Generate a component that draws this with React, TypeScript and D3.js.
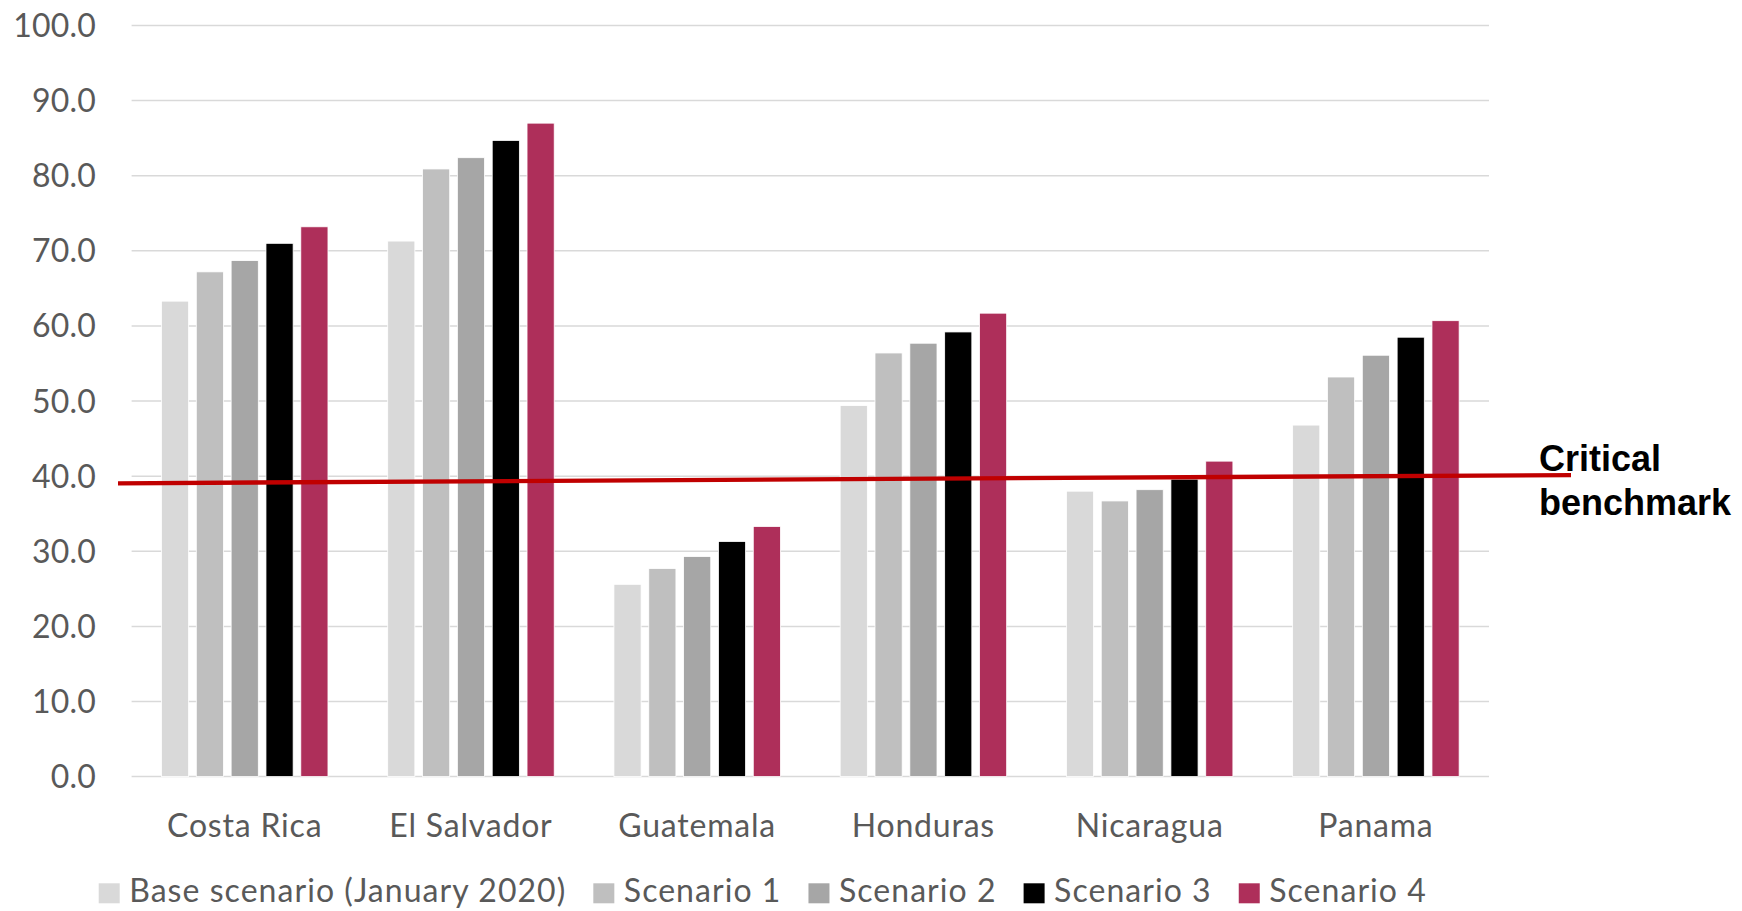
import React, { useEffect, useRef } from "react";
import * as d3 from "d3";

// Countries along the x axis
const countries = ["Costa Rica", "El Salvador", "Guatemala", "Honduras", "Nicaragua", "Panama"];

// Scenario names (legend order) and their colours
const scenarios = ["Base scenario (January 2020)", "Scenario 1", "Scenario 2", "Scenario 3", "Scenario 4"];
const scenarioColors = ["#d9d9d9", "#bfbfbf", "#a6a6a6", "#000000", "#ae2f5a"];

// Values per scenario, one entry per country
const baseScenario = [63.3, 71.3, 25.6, 49.4, 38.0, 46.8];
const scenario1 = [67.2, 80.9, 27.7, 56.4, 36.7, 53.2];
const scenario2 = [68.7, 82.4, 29.3, 57.7, 38.2, 56.1];
const scenario3 = [71.0, 84.7, 31.3, 59.2, 39.6, 58.5];
const scenario4 = [73.2, 87.0, 33.3, 61.7, 42.0, 60.7];
const seriesValues = [baseScenario, scenario1, scenario2, scenario3, scenario4];

// Y axis ticks
const yTicks = [0, 10, 20, 30, 40, 50, 60, 70, 80, 90, 100];

// Critical benchmark line: value at its left end and at its right end
const benchmarkValues = [39.05, 40.15];
const benchmarkLabel = ["Critical", "benchmark"];

const W = 1742;
const H = 911;
const plotLeft = 131.6;
const plotRight = 1489;
const plotTop = 25.5;
const plotBottom = 776.6;

const labelFont = "Lato, 'Open Sans', sans-serif";

export default function App() {
  const ref = useRef<SVGSVGElement | null>(null);

  useEffect(() => {
    const svg = d3.select(ref.current);
    svg.selectAll("*").remove();

    const y = d3.scaleLinear().domain([0, 100]).range([plotBottom, plotTop]);
    const x0 = d3.scaleBand<string>().domain(countries).range([plotLeft, plotRight]).padding(0);
    const outer = x0.bandwidth() * 0.132;
    const x1 = d3
      .scaleBand<string>()
      .domain(scenarios)
      .range([outer, x0.bandwidth() - outer])
      .paddingInner(0.22)
      .paddingOuter(0);

    // gridlines
    svg
      .append("g")
      .selectAll("line")
      .data(yTicks)
      .join("line")
      .attr("x1", plotLeft)
      .attr("x2", plotRight)
      .attr("y1", (d) => y(d))
      .attr("y2", (d) => y(d))
      .attr("stroke", "#d9d9d9")
      .attr("stroke-width", 1.5);

    // y tick labels
    svg
      .append("g")
      .selectAll("text")
      .data(yTicks)
      .join("text")
      .attr("x", 96)
      .attr("y", (d) => y(d))
      .attr("dy", "0.36em")
      .attr("text-anchor", "end")
      .attr("font-family", labelFont)
      .attr("font-size", 32)
      .attr("letter-spacing", 0.2)
      .attr("fill", "#595959")
      .text((d) => d3.format(".1f")(d));

    // bars
    const groups = svg
      .append("g")
      .selectAll("g")
      .data(countries)
      .join("g")
      .attr("transform", (c) => `translate(${x0(c)},0)`);

    groups
      .selectAll("rect")
      .data((c) => {
        const ci = countries.indexOf(c as string);
        return scenarios.map((s, si) => ({ s, si, v: seriesValues[si][ci] }));
      })
      .join("rect")
      .attr("x", (d) => x1(d.s) as number)
      .attr("width", x1.bandwidth())
      .attr("y", (d) => y(d.v))
      .attr("height", (d) => y(0) - y(d.v))
      .attr("fill", (d) => scenarioColors[d.si])
      .attr("stroke", "#ffffff")
      .attr("stroke-width", 0.8);

    // category labels
    svg
      .append("g")
      .selectAll("text")
      .data(countries)
      .join("text")
      .attr("x", (c) => (x0(c) as number) + x0.bandwidth() / 2)
      .attr("y", 836.7)
      .attr("text-anchor", "middle")
      .attr("font-family", labelFont)
      .attr("font-size", 32)
      .attr("letter-spacing", 0.8)
      .attr("fill", "#595959")
      .text((c) => c);

    // critical benchmark line
    const bx1 = 118;
    const bx2 = 1571;
    svg
      .append("line")
      .attr("x1", bx1)
      .attr("x2", bx2)
      .attr("y1", y(benchmarkValues[0]))
      .attr("y2", y(benchmarkValues[1]))
      .attr("stroke", "#c00000")
      .attr("stroke-width", 4.3);

    svg
      .append("g")
      .selectAll("text")
      .data(benchmarkLabel)
      .join("text")
      .attr("x", 1539)
      .attr("y", (_d, i) => 470.7 + i * 44.3)
      .attr("font-family", "'Liberation Sans', Arial, sans-serif")
      .attr("font-weight", "bold")
      .attr("font-size", 36)
      .attr("fill", "#000000")
      .text((d) => d);

    // legend
    const legend = svg.append("g");
    let lx = 98.7;
    scenarios.forEach((s, i) => {
      legend
        .append("rect")
        .attr("x", lx)
        .attr("y", 883.3)
        .attr("width", 21)
        .attr("height", 20)
        .attr("fill", scenarioColors[i]);
      const t = legend
        .append("text")
        .attr("x", lx + 30.5)
        .attr("y", 901.7)
        .attr("font-family", labelFont)
        .attr("font-size", 32)
        .attr("letter-spacing", 1.05)
        .attr("fill", "#595959")
        .text(s);
      const w = (t.node() as SVGTextElement).getComputedTextLength();
      lx = lx + 30.5 + w + 27;
    });
  }, []);

  return (
    <svg
      ref={ref}
      width={W}
      height={H}
      style={{ position: "absolute", left: 0, top: 0, background: "#ffffff" }}
    />
  );
}
